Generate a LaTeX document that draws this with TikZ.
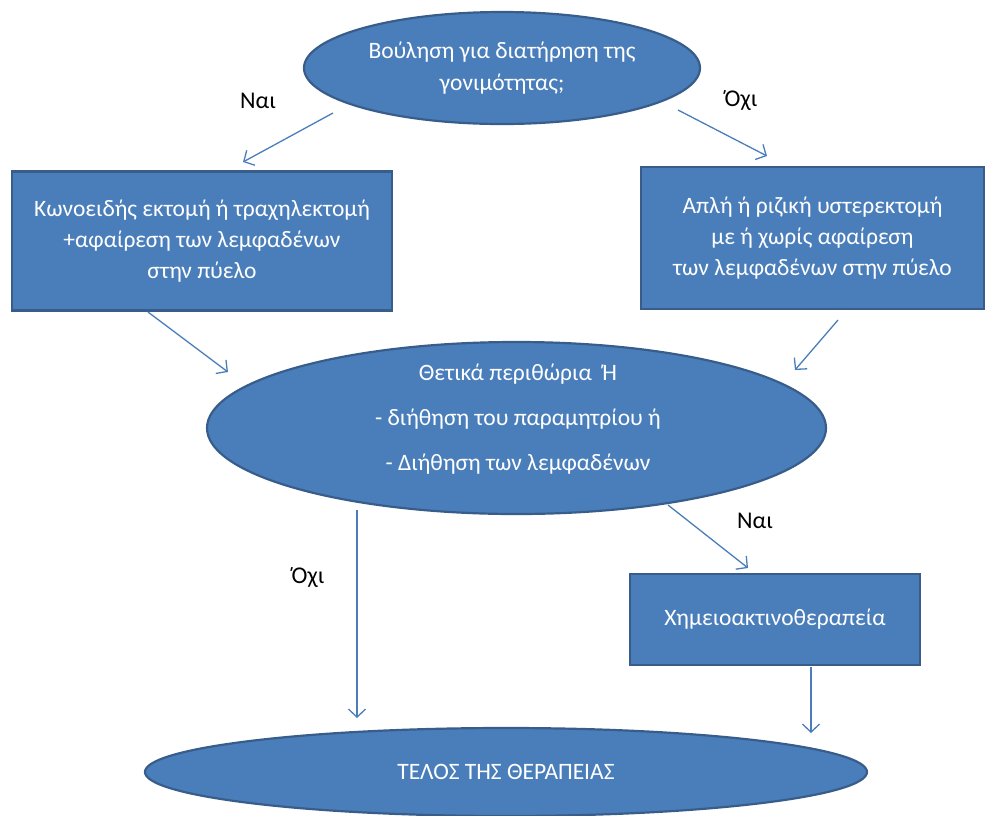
\documentclass[tikz,border=0pt]{standalone}
\usepackage{fontspec}
\setmainfont{Carlito}
\usetikzlibrary{shapes.geometric,arrows.meta}
\definecolor{fillblue}{HTML}{4A7EBB}
\definecolor{edgeblue}{HTML}{385D8A}
\definecolor{arrowblue}{HTML}{4A7EBB}
\tikzset{
  oval/.style={ellipse, draw=edgeblue, line width=2.2pt, fill=fillblue, text=white, inner sep=0pt, font=\fontsize{23.5}{32}\selectfont, align=center},
  boxnode/.style={rectangle, draw=edgeblue, line width=2.2pt, fill=fillblue, text=white, inner sep=0pt, font=\fontsize{23.5}{31}\selectfont, align=center},
  conn/.style={draw=arrowblue, line width=1.3pt, -{Straight Barb[length=8pt,width=17pt,line width=1.3pt]}},
  lbl/.style={font=\fontsize{24}{28}\selectfont, text=black}
}
\begin{document}
\begin{tikzpicture}[x=1pt,y=-1pt]
\useasboundingbox (0,0) rectangle (991,815);
\node[oval, minimum width=396pt, minimum height=112pt] (top) at (502,68) {Βούληση για διατήρηση της\\γονιμότητας;};
\node[boxnode, minimum width=380pt, minimum height=139pt] (left) at (202,241) {Κωνοειδής εκτομή ή τραχηλεκτομή\\+αφαίρεση των λεμφαδένων\\στην πύελο};
\node[boxnode, minimum width=343pt, minimum height=142pt] (right) at (812.5,238) {Απλή ή ριζική υστερεκτομή\\με ή χωρίς αφαίρεση\\των λεμφαδένων στην πύελο};
\node[oval, minimum width=619pt, minimum height=172pt] (mid) at (516.5,428) {};
\node[text=white, align=center, font=\fontsize{23.5}{45}\selectfont, inner sep=0pt] (midtext) at (518,419) {Θετικά περιθώρια\ \ Ή\\- διήθηση του παραμητρίου ή\\- Διήθηση των λεμφαδένων};
\node[boxnode, minimum width=290pt, minimum height=91pt] (chemo) at (775,619.5) {Χημειοακτινοθεραπεία};
\node[oval, minimum width=722pt, minimum height=88pt] (end) at (506,772) {ΤΕΛΟΣ ΤΗΣ ΘΕΡΑΠΕΙΑΣ};

\coordinate (a1s) at (333,113); \coordinate (a1e) at (243,162);
\coordinate (a2s) at (678,110); \coordinate (a2e) at (767,156);
\coordinate (a3s) at (148,312); \coordinate (a3e) at (228,372);
\coordinate (a4s) at (838,320); \coordinate (a4e) at (795,370);
\coordinate (a5s) at (668,505); \coordinate (a5e) at (748,568);
\coordinate (a6s) at (357,510); \coordinate (a6e) at (357,718);
\coordinate (a7s) at (811,667); \coordinate (a7e) at (811,733);

\draw[conn] (a1s) -- (a1e);
\draw[conn] (a2s) -- (a2e);
\draw[conn] (a3s) -- (a3e);
\draw[conn] (a4s) -- (a4e);
\draw[conn] (a5s) -- (a5e);
\draw[conn] (a6s) -- (a6e);
\draw[conn] (a7s) -- (a7e);

\node[lbl] (l1) at (258,101) {Ναι};
\node[lbl] (l2) at (741,101) {Όχι};
\node[lbl] (l3) at (755,521) {Ναι};
\node[lbl] (l4) at (308,578) {Όχι};
\end{tikzpicture}
\end{document}
